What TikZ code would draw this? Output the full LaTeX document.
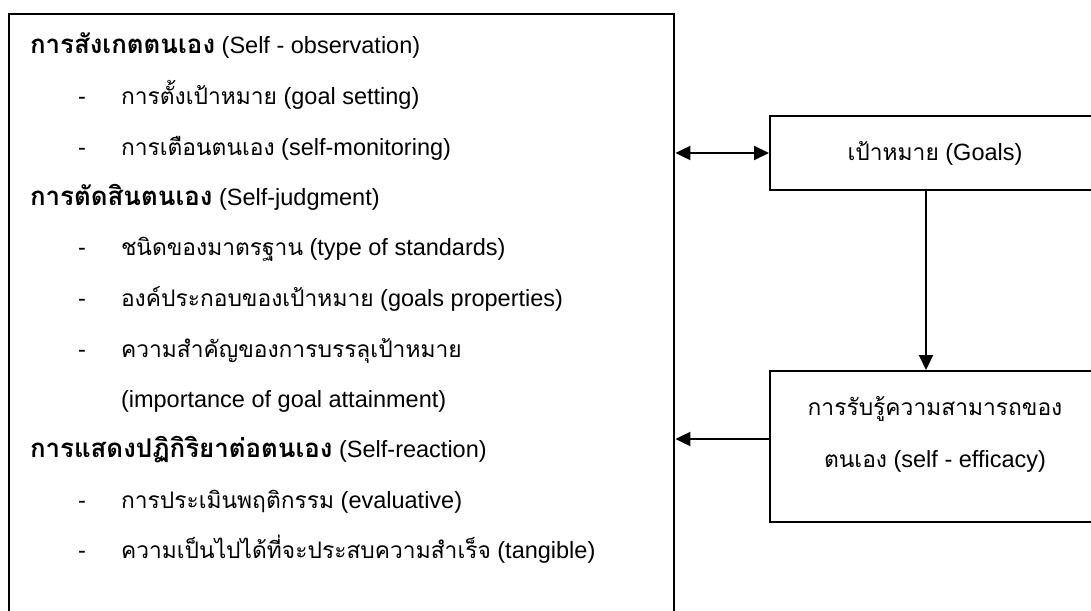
\documentclass[tikz,border=0pt]{standalone}
\usepackage{fontspec}
\setmainfont{Liberation Sans}
\newfontfamily\thai[Script=Thai,Scale=0.97]{Loma}
\newfontfamily\thaibf[Script=Thai,Scale=1.1]{Loma}
\usetikzlibrary{arrows.meta}

\begin{document}
\begin{tikzpicture}[
		x=1pt, y=-1pt,
		line width=2pt,
		>={Triangle[length=15pt,width=14pt]},
		box/.style = {draw, rectangle, inner sep=0pt},
		line/.style = {anchor=base west, inner sep=0pt, font=\fontsize{23.5}{52}\selectfont}
	]
	\useasboundingbox (0,0) rectangle (1091,610);
	\clip (0,0) rectangle (1091,610);
	% left box with the three phases
	\node[box, line width=2.4pt, anchor=north west, minimum width=665pt, minimum height=620pt] (main) at (8,13) {};
	\node[line] (h1) at (29,53) {{\thaibf\bfseries การสังเกตตนเอง} (Self - observation)};
	\node[line] (i1) at (77,104) {\makebox[43pt][l]{-}{\thai การตั้งเป้าหมาย} (goal setting)};
	\node[line] (i2) at (77,155) {\makebox[43pt][l]{-}{\thai การเตือนตนเอง} (self-monitoring)};
	\node[line] (h2) at (29,205) {{\thaibf\bfseries การตัดสินตนเอง} (Self-judgment)};
	\node[line] (i3) at (77,255) {\makebox[43pt][l]{-}{\thai ชนิดของมาตรฐาน} (type of standards)};
	\node[line] (i4) at (77,306) {\makebox[43pt][l]{-}{\thai องค์ประกอบของเป้าหมาย} (goals properties)};
	\node[line] (i5) at (77,357) {\makebox[43pt][l]{-}{\thai ความสำคัญของการบรรลุเป้าหมาย}};
	\node[line] (i5b) at (120,407) {(importance of goal attainment)};
	\node[line] (h3) at (29,457) {{\thaibf\bfseries การแสดงปฏิกิริยาต่อตนเอง} (Self-reaction)};
	\node[line] (i6) at (77,508) {\makebox[43pt][l]{-}{\thai การประเมินพฤติกรรม} (evaluative)};
	\node[line] (i7) at (77,558) {\makebox[43pt][l]{-}{\thai ความเป็นไปได้ที่จะประสบความสำเร็จ} (tangible)};
	% right boxes
	\node[box, minimum width=330pt, minimum height=74pt, font=\fontsize{23.5}{28}\selectfont] (goals) at (935,153) {{\thai เป้าหมาย} (Goals)};
	\node[box, minimum width=330pt, minimum height=151pt] (eff) at (935,446.5) {};
	\node[align=center, font=\fontsize{23.5}{52}\selectfont] (efftxt) at (935,434) {{\thai การรับรู้ความสามารถของ}\\{\thai ตนเอง} (self - efficacy)};
	\draw[<->] (main.east |- goals.west) -- (goals.west);
	\draw[->] ([xshift=-9pt]goals.south) -- ([xshift=-9pt]eff.north);
	\draw[->] ([yshift=7.5pt]eff.west) -- ([yshift=7.5pt]eff.west -| main.east);
\end{tikzpicture}
\end{document}
